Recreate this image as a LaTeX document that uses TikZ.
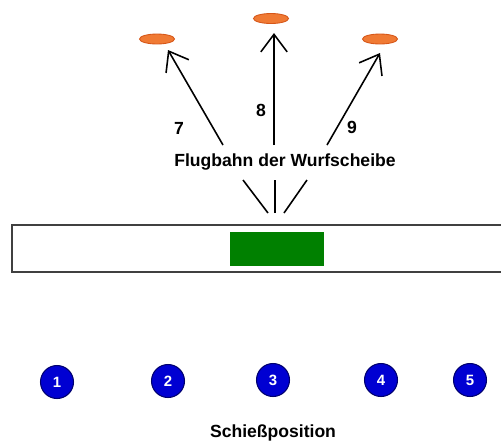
\documentclass[tikz,border=0pt]{standalone}
\usepackage{fontspec}
\setmainfont{Liberation Sans}
\usetikzlibrary{shapes,arrows.meta,positioning}
\definecolor{discorange}{RGB}{240,122,52}
\definecolor{discrim}{RGB}{214,86,24}
\definecolor{posblue}{RGB}{0,0,210}
\definecolor{posrim}{RGB}{0,0,110}
\definecolor{standgreen}{RGB}{0,128,0}

\begin{document}
\begin{tikzpicture}[x=0.02cm, y=-0.02cm,
    disc/.style={ellipse, draw=discrim, fill=discorange, line width=0.5pt, minimum width=0.7cm, minimum height=0.2cm, inner sep=0pt},
    shooter/.style={circle, draw=posrim, fill=posblue, line width=0.6pt, minimum size=0.66cm, inner sep=0pt, text=white, font=\bfseries\fontsize{8.5}{10}\selectfont},
    flight/.style={line width=0.9pt},
    shot/.style={flight, -{Straight Barb[length=10pt,width=15pt]}},
    lbl/.style={font=\bfseries\fontsize{10}{12}\selectfont},
]
    \useasboundingbox (0,0) rectangle (501,444);

    % stand and trap house
    \node[draw=black!75, line width=1pt, minimum width=9.96cm, minimum height=0.94cm] (stand) at (261,248.5) {};
    \node[fill=standgreen, minimum width=1.88cm, minimum height=0.68cm] (house) at (277,249) {};

    % clay targets
    \node[disc] (d7) at (157,39) {};
    \node[disc] (d8) at (271,18.5) {};
    \node[disc] (d9) at (380,39) {};

    % flight paths
    \coordinate (t7) at (168,50);
    \coordinate (t8) at (274,33);
    \coordinate (t9) at (380,53);
    \coordinate (s7) at (223,145);
    \coordinate (s8) at (274,145);
    \coordinate (s9) at (327,145);
    \coordinate (b7) at (268,213);
    \coordinate (b8) at (275,213);
    \coordinate (b9) at (284,213);
    \coordinate (m7) at (243,180);
    \coordinate (m8) at (275,180);
    \coordinate (m9) at (307,180);
    \draw[shot] (s7) -- (t7);
    \draw[shot] (s8) -- (t8);
    \draw[shot] (s9) -- (t9);
    \draw[flight] (b7) -- (m7);
    \draw[flight] (b8) -- (m8);
    \draw[flight] (b9) -- (m9);

    \node[lbl] (n7) at (179,128) {7};
    \node[lbl] (n8) at (261,110) {8};
    \node[lbl] (n9) at (352,127) {9};
    \node[lbl] (flug) at (285,162) {Flugbahn der Wurfscheibe};

    % shooting positions
    \node[shooter] (p1) at (57,382) {1};
    \node[shooter] (p2) at (168,381) {2};
    \node[shooter] (p3) at (273,380) {3};
    \node[shooter] (p4) at (381,380) {4};
    \node[shooter] (p5) at (470,380) {5};
    \node[lbl] (schiess) at (273,433) {Schießposition};
\end{tikzpicture}
\end{document}
